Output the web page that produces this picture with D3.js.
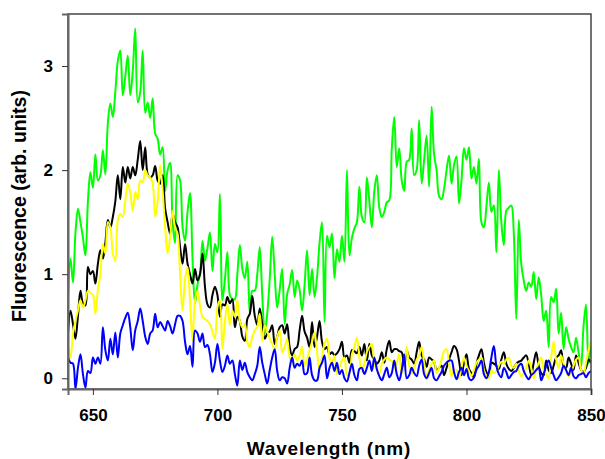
<!DOCTYPE html>
<html lang="en">
<head>
  <meta charset="UTF-8">
  <title>Fluorescence spectra</title>
  <script src="https://d3js.org/d3.v7.min.js"></script>
  <style>
    body { margin: 0; background: #fff; }
    svg { display: block; font-family: "Liberation Sans", Arial, sans-serif; }
  </style>
</head>
<body>
  <svg width="605" height="459"></svg>

  <script>
  // wavelength grid, 1 nm steps from 640 to 850
  const wavelengths = d3.range(640, 851);
  const xTicks = [650, 700, 750, 800, 850];
  const yTicks = [0, 1, 2, 3];

  // one value per nm
  const green = [
    0.75, 1.15, 0.92, 1.40, 1.63, 1.50, 1.35, 1.18, 1.70, 1.98,
    1.83, 2.15, 1.90, 1.95, 2.19, 1.96, 2.45, 2.64, 2.51, 2.75,
    3.05, 3.15, 2.72, 2.90, 3.10, 2.72, 2.95, 3.36, 2.65, 2.75,
    3.15, 2.55, 2.65, 2.50, 2.69, 2.35, 2.30, 2.15, 2.22, 1.80,
    2.00, 2.07, 1.50, 1.30, 1.95, 1.90, 1.45, 1.32, 1.60, 1.78,
    1.15, 0.72, 0.90, 1.00, 1.32, 1.13, 1.25, 1.40, 1.03, 1.29,
    1.21, 1.77, 0.75, 0.95, 1.21, 0.80, 0.76, 0.76, 1.00, 1.28,
    1.05, 0.96, 1.12, 0.62, 0.84, 0.84, 1.00, 1.26, 0.80, 0.43,
    0.62, 0.95, 1.36, 1.00, 0.68, 0.85, 1.05, 0.52, 0.81, 0.90,
    1.04, 0.78, 0.94, 0.85, 0.65, 0.90, 1.23, 0.80, 1.05, 0.78,
    0.97, 1.30, 1.50, 0.54, 1.37, 1.26, 1.39, 0.96, 1.24, 1.12,
    1.37, 1.12, 2.00, 1.18, 1.35, 1.44, 1.50, 1.84, 1.55, 1.50,
    1.93, 1.70, 1.45, 1.80, 1.95, 1.64, 1.55, 1.60, 1.69, 1.71,
    2.20, 2.51, 2.03, 2.21, 1.90, 1.80, 2.08, 2.10, 2.40, 1.95,
    2.00, 2.48, 1.87, 2.10, 2.33, 1.84, 2.61, 2.15, 2.00, 1.75,
    1.72, 1.82, 2.00, 2.14, 1.87, 2.05, 2.13, 1.68, 1.90, 2.21,
    2.10, 2.22, 1.92, 2.03, 1.87, 2.11, 1.50, 1.45, 1.65, 1.88,
    1.60, 1.66, 1.21, 2.00, 1.50, 1.28, 1.61, 1.64, 1.66, 1.39,
    0.57, 1.52, 1.10, 0.94, 0.84, 0.92, 0.88, 1.02, 0.76, 0.97,
    0.80, 0.55, 0.65, 0.30, 0.78, 0.73, 0.86, 0.43, 0.63, 0.28,
    0.49, 0.38, 0.30, 0.25, 0.39, 0.25, 0.11, 0.50, 0.71, 0.14,
    0.35
  ];

  const black = [
    0.43, 0.65, 0.52, 0.38, 0.60, 0.84, 0.72, 0.70, 1.07, 1.00,
    1.03, 0.91, 1.10, 1.23, 1.15, 1.30, 1.52, 1.45, 1.55, 1.70,
    1.95, 1.72, 2.03, 1.88, 2.03, 1.92, 2.03, 1.95, 2.10, 2.28,
    2.00, 2.22, 1.96, 1.93, 1.95, 2.04, 1.90, 1.87, 1.95, 1.63,
    1.50, 1.39, 1.58, 1.50, 1.45, 1.26, 1.10, 1.29, 1.10, 1.00,
    0.91, 1.05, 0.94, 1.00, 1.20, 0.88, 0.71, 0.68, 0.80, 0.88,
    0.80, 0.59, 0.71, 0.70, 0.78, 0.72, 0.76, 0.49, 0.59, 0.55,
    0.40, 0.36, 0.57, 0.62, 0.79, 0.60, 0.51, 0.67, 0.52, 0.38,
    0.43, 0.45, 0.51, 0.33, 0.40, 0.49, 0.51, 0.43, 0.52, 0.30,
    0.22, 0.28, 0.30, 0.46, 0.60, 0.45, 0.39, 0.30, 0.54, 0.30,
    0.40, 0.55, 0.35, 0.28, 0.30, 0.23, 0.25, 0.22, 0.24, 0.28,
    0.35, 0.20, 0.22, 0.15, 0.27, 0.26, 0.24, 0.30, 0.22, 0.33,
    0.17, 0.33, 0.22, 0.18, 0.14, 0.17, 0.25, 0.15, 0.28, 0.36,
    0.25, 0.28, 0.28, 0.26, 0.25, 0.11, 0.27, 0.20, 0.18, 0.14,
    0.25, 0.35, 0.22, 0.18, 0.11, 0.20, 0.18, 0.16, 0.07, 0.10,
    0.12, 0.03, 0.10, 0.18, 0.25, 0.31, 0.28, 0.17, 0.03, 0.15,
    0.23, 0.09, 0.05, 0.01, 0.14, 0.22, 0.28, 0.15, 0.06, 0.03,
    0.15, 0.14, 0.12, 0.09, 0.18, 0.25, 0.14, 0.09, 0.07, 0.10,
    0.14, 0.16, 0.17, 0.20, 0.22, 0.14, 0.03, 0.15, 0.25, 0.12,
    0.05, 0.03, 0.17, 0.08, 0.05, 0.12, 0.20, 0.22, 0.27, 0.12,
    0.10, 0.20, 0.14, 0.08, 0.22, 0.15, 0.08, 0.06, 0.10, 0.18,
    0.15
  ];

  const yellow = [
    0.30, 0.20, 0.43, 0.55, 0.65, 0.75, 0.68, 0.75, 0.84, 0.82,
    0.80, 0.62, 0.85, 1.00, 1.29, 1.20, 1.50, 1.45, 1.20, 1.13,
    1.52, 1.58, 1.55, 1.71, 1.87, 1.78, 1.61, 1.79, 1.72, 1.90,
    1.88, 2.00, 1.95, 1.93, 1.87, 1.55, 1.70, 2.05, 1.80, 1.45,
    1.20, 1.35, 1.61, 1.45, 1.39, 1.00, 0.65, 0.95, 1.07, 0.75,
    0.36, 0.75, 0.84, 0.70, 0.59, 0.57, 0.55, 0.52, 0.45, 0.38,
    0.68, 0.75, 0.28, 0.55, 0.71, 0.51, 0.65, 0.59, 0.75, 0.55,
    0.49, 0.52, 0.35, 0.30, 0.40, 0.46, 0.49, 0.62, 0.36, 0.51,
    0.45, 0.38, 0.33, 0.27, 0.40, 0.46, 0.25, 0.30, 0.38, 0.20,
    0.15, 0.23, 0.17, 0.22, 0.30, 0.12, 0.18, 0.27, 0.35, 0.44,
    0.25, 0.08, 0.20, 0.33, 0.38, 0.20, 0.14, 0.22, 0.04, 0.10,
    0.17, 0.20, 0.03, 0.04, 0.23, 0.30, 0.39, 0.20, 0.06, 0.14,
    0.25, 0.30, 0.33, 0.15, 0.08, 0.04, 0.14, 0.18, 0.20, 0.18,
    0.17, 0.10, 0.15, 0.23, 0.05, 0.10, 0.30, 0.12, 0.04, 0.10,
    0.18, 0.22, 0.30, 0.15, 0.02, 0.08, 0.14, 0.17, 0.05, 0.10,
    0.18, 0.26, 0.28, 0.14, 0.02, 0.08, 0.08, 0.00, 0.10, 0.20,
    0.12, 0.07, 0.02, 0.08, 0.15, 0.18, 0.20, 0.08, 0.02, 0.00,
    0.08, 0.05, 0.07, 0.12, 0.16, 0.14, 0.18, 0.20, 0.12, 0.10,
    0.14, 0.07, 0.02, 0.05, 0.10, 0.17, 0.10, 0.00, 0.08, 0.15,
    0.20, 0.08, 0.04, 0.00, 0.20, 0.35, 0.18, 0.10, 0.22, 0.14,
    0.08, 0.02, 0.06, 0.12, 0.18, 0.20, 0.08, 0.05, 0.15, 0.27,
    0.36
  ];

  const blue = [
    0.20, 0.15, 0.14, -0.10, 0.10, 0.23, 0.04, -0.09, 0.07, 0.05,
    0.20, 0.14, 0.20, 0.14, 0.49, 0.27, 0.17, 0.38, 0.23, 0.44,
    0.20, 0.43, 0.51, 0.58, 0.63, 0.49, 0.27, 0.46, 0.55, 0.67,
    0.55, 0.40, 0.33, 0.43, 0.46, 0.62, 0.49, 0.54, 0.50, 0.46,
    0.55, 0.50, 0.43, 0.52, 0.60, 0.60, 0.55, 0.35, 0.23, 0.31,
    0.11, 0.46, 0.43, 0.35, 0.43, 0.30, 0.32, 0.23, 0.06, 0.15,
    0.33, 0.17, 0.06, 0.12, 0.22, 0.14, 0.17, 0.04, -0.07, 0.17,
    0.08, 0.15, 0.06, 0.01, -0.02, 0.04, 0.12, 0.30, 0.15, 0.04,
    -0.05, 0.08, 0.20, 0.28, 0.07, -0.02, 0.01, 0.00, -0.05, 0.10,
    0.20, 0.10, 0.14, 0.12, 0.17, 0.04, 0.05, 0.20, 0.03, -0.02,
    -0.02, 0.10, 0.15, 0.22, 0.00, 0.10, 0.15, 0.07, 0.15, 0.04,
    0.08, 0.00, -0.03, 0.05, 0.14, 0.03, -0.02, 0.09, 0.10, 0.04,
    0.10, 0.17, 0.07, 0.20, 0.09, 0.02, -0.02, 0.04, 0.10, 0.01,
    0.05, 0.17, 0.04, -0.02, 0.08, 0.23, 0.00, 0.03, 0.10, 0.05,
    0.02, 0.12, 0.18, 0.04, 0.00, 0.05, 0.10, 0.00, -0.02, 0.02,
    0.06, 0.12, 0.15, 0.17, 0.17, 0.06, -0.01, 0.06, 0.10, 0.03,
    0.09, 0.00, -0.02, 0.01, 0.08, 0.12, 0.17, 0.04, 0.00, 0.06,
    0.20, 0.31, 0.12, 0.04, 0.01, 0.10, 0.06, 0.00, 0.03, 0.06,
    0.07, 0.12, 0.14, 0.07, 0.02, -0.01, 0.03, 0.05, 0.08, 0.10,
    -0.02, 0.04, 0.12, 0.17, 0.10, 0.03, -0.02, 0.01, 0.05, 0.12,
    0.08, 0.03, 0.10, 0.02, 0.00, 0.03, 0.04, 0.05, 0.01, 0.05,
    0.07
  ];

  const series = [
    { name: "green", color: "#00ff00", values: green },
    { name: "black", color: "#000000", values: black },
    { name: "yellow", color: "#ffff00", values: yellow },
    { name: "blue", color: "#0000ff", values: blue }
  ];

  const svg = d3.select("svg");
  const margin = { top: 14, right: 14, bottom: 70, left: 68 };
  const width = 605 - margin.left - margin.right;
  const height = 459 - margin.top - margin.bottom;

  const x = d3.scaleLinear().domain([640, 850]).range([0, width]);
  const y = d3.scaleLinear().domain([-0.103, 3.5]).range([height, 0]);

  const g = svg.append("g")
    .attr("transform", `translate(${margin.left},${margin.top})`);

  g.append("clipPath")
    .attr("id", "plot-clip")
    .append("rect")
    .attr("width", width)
    .attr("height", height);

  const line = d3.line()
    .x((d, i) => x(wavelengths[i]))
    .y(d => y(d))
    .curve(d3.curveCatmullRom);

  g.append("g")
    .attr("clip-path", "url(#plot-clip)")
    .selectAll("path")
    .data(series)
    .join("path")
    .attr("d", d => line(d.values))
    .attr("fill", "none")
    .attr("stroke", d => d.color)
    .attr("stroke-width", 2)
    .attr("stroke-linejoin", "round");

  // frame
  g.append("rect")
    .attr("width", width)
    .attr("height", height)
    .attr("fill", "none")
    .attr("stroke", "#444")
    .attr("stroke-width", 1.5);

  const xAxis = g.append("g")
    .attr("transform", `translate(0,${height})`)
    .call(d3.axisBottom(x).tickValues(xTicks).tickSize(6).tickPadding(14));

  const yAxis = g.append("g")
    .call(d3.axisLeft(y).tickValues(yTicks).tickFormat(d3.format("d"))
      .tickSize(6).tickPadding(9));

  [xAxis, yAxis].forEach(a => {
    a.select(".domain").attr("stroke", "#666").attr("stroke-width", 2);
    a.selectAll(".tick line").attr("stroke", "#333").attr("stroke-width", 1);
    a.selectAll(".tick text")
      .attr("font-family", "Liberation Sans, Arial, sans-serif")
      .attr("font-size", 17)
      .attr("font-weight", "bold")
      .attr("fill", "#000");
  });

  svg.append("text")
    .attr("x", 329)
    .attr("y", 455)
    .attr("text-anchor", "middle")
    .attr("font-size", 19)
    .attr("font-weight", "bold")
    .attr("letter-spacing", 0.8)
    .text("Wavelength (nm)");

  svg.append("text")
    .attr("transform", "translate(26,206) rotate(-90)")
    .attr("text-anchor", "middle")
    .attr("font-size", 19.5)
    .attr("font-weight", "bold")
    .text("Fluorescence (arb. units)");
  </script>
</body>
</html>
